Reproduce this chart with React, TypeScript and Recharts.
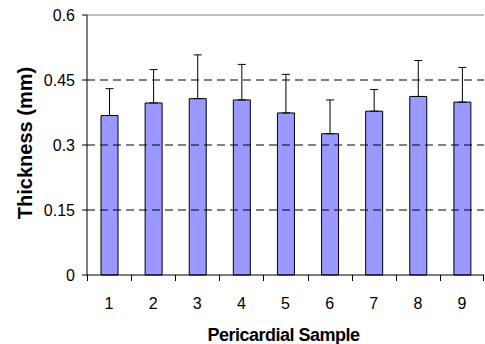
import React from 'react';
import { BarChart, Bar, XAxis, YAxis, ErrorBar, ReferenceLine } from 'recharts';

const samples = ['1', '2', '3', '4', '5', '6', '7', '8', '9'];
const thickness = [0.368, 0.397, 0.407, 0.404, 0.374, 0.326, 0.378, 0.412, 0.399];
const errUpper = [0.062, 0.077, 0.101, 0.082, 0.089, 0.078, 0.05, 0.083, 0.08];
const yTicks = [0, 0.15, 0.3, 0.45, 0.6];
const gridValues = [0.15, 0.3, 0.45];

const data = samples.map((s, i) => ({
  sample: s,
  thickness: thickness[i],
  err: [0, errUpper[i]],
}));

const FONT = '"Liberation Sans", Arial, sans-serif';

const XTick = (props: any) => {
  const { x, y, payload, width, visibleTicksCount, index } = props;
  const n = visibleTicksCount || samples.length;
  const half = typeof width === 'number' && width > 0 ? width / n / 2 : 22;
  const lx = Math.round(x - half) + 0.5;
  const rx = Math.round(x + half) - 0.5;
  const isLast = index === n - 1;
  return (
    <g>
      <line x1={lx} x2={lx} y1={y} y2={y + 6} stroke="#000" strokeWidth={1} />
      {isLast && <line x1={rx} x2={rx} y1={y} y2={y + 6} stroke="#000" strokeWidth={1} />}
      <text x={x} y={y + 34} textAnchor="middle" fontSize={16} fontFamily={FONT} fill="#000">
        {payload.value}
      </text>
    </g>
  );
};

const YLabel = (props: any) => {
  const vb = props.viewBox || { x: 0, y: 15, width: 87, height: 260 };
  const cx = vb.x + 25;
  const cy = vb.y + vb.height / 2 - 2;
  return (
    <text
      x={cx}
      y={cy}
      transform={`rotate(-90, ${cx}, ${cy})`}
      textAnchor="middle"
      dominantBaseline="central"
      fontSize={20}
      fontWeight="bold"
      fontFamily={FONT}
      fill="#000"
    >
      Thickness (mm)
    </text>
  );
};

const XLabel = (props: any) => {
  const vb = props.viewBox || { x: 87, y: 275, width: 397, height: 69 };
  const cx = vb.x + vb.width / 2 - 2;
  return (
    <text
      x={cx}
      y={vb.y + 66}
      textAnchor="middle"
      fontSize={18}
      letterSpacing={-0.5}
      fontWeight="bold"
      fontFamily={FONT}
      fill="#000"
    >
      Pericardial Sample
    </text>
  );
};

export default function App() {
  return (
    <div style={{ position: 'absolute', left: 0, top: 0 }}>
      <BarChart
        width={485}
        height={344}
        data={data}
        margin={{ top: 15, right: 1, bottom: 0, left: 0 }}
        barCategoryGap={0}
      >
        <XAxis
          dataKey="sample"
          height={69}
          tickLine={false}
          tickSize={0}
          tickMargin={0}
          axisLine={{ stroke: '#000' }}
          tick={<XTick />}
          interval={0}
          label={<XLabel />}
        />
        <YAxis
          yAxisId="left"
          width={87}
          domain={[0, 0.6]}
          ticks={yTicks}
          tickSize={5}
          tickMargin={7}
          tickLine={{ stroke: '#000' }}
          axisLine={{ stroke: '#000' }}
          tick={{ fontSize: 16, fontFamily: FONT, fill: '#000' }}
          label={<YLabel />}
          interval={0}
        />
        <YAxis
          yAxisId="right"
          orientation="right"
          width={0}
          domain={[0, 0.6]}
          tick={false}
          tickLine={false}
          axisLine={{ stroke: '#808080' }}
        />
        {gridValues.map((v) => (
          <ReferenceLine key={v} yAxisId="left" y={v} stroke="#000" strokeDasharray="8 5" />
        ))}
        <ReferenceLine yAxisId="left" y={0.6} stroke="#808080" />
        <Bar
          yAxisId="left"
          dataKey="thickness"
          fill="#9999FF"
          stroke="#000"
          strokeWidth={1}
          barSize={17}
          isAnimationActive={false}
        >
          <ErrorBar dataKey="err" width={4} stroke="#000" strokeWidth={1} direction="y" />
        </Bar>
      </BarChart>
    </div>
  );
}
